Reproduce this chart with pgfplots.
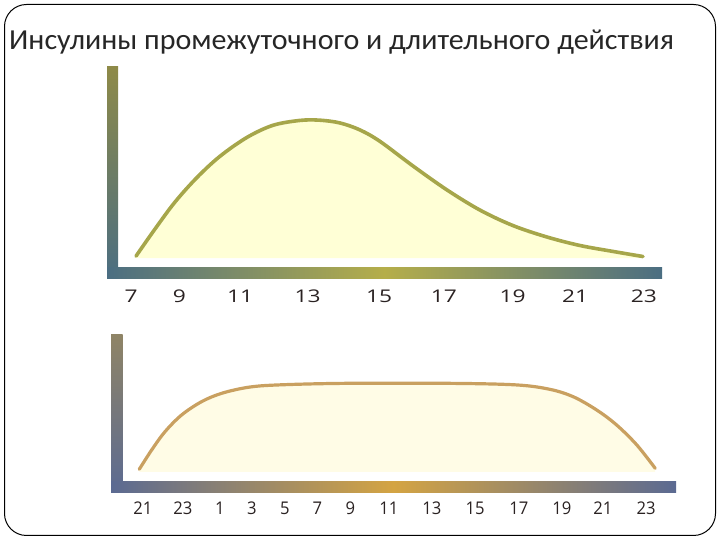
\documentclass[border=0pt]{standalone}
\usepackage{fontspec}
\setmainfont{Carlito}
\newfontfamily\titlefont[FakeStretch=1.035]{Carlito}
\newfontfamily\labfont[FakeStretch=1.3]{Open Sans}
\newfontfamily\labfontc[FakeStretch=0.95]{Open Sans}
\usepackage{pgfplots}
\pgfplotsset{compat=1.18}
\usepgfplotslibrary{fillbetween}

\definecolor{titlecol}{HTML}{262626}
\definecolor{labcol}{HTML}{2A2222}
\definecolor{topline}{HTML}{A6A64A}
\definecolor{topfill}{HTML}{FFFFD6}
\definecolor{botline}{HTML}{C9A060}
\definecolor{botfill}{HTML}{FFFCE6}
\definecolor{tbarA}{HTML}{8E8A48}
\definecolor{tbarB}{HTML}{4B6E82}
\definecolor{tbarM}{HTML}{B5AE4A}
\definecolor{bbarA}{HTML}{8F8466}
\definecolor{bbarB}{HTML}{5B6A92}
\definecolor{bbarM}{HTML}{D4A443}

\pgfplotstableread{
h      y
7.156  10.8
7.749  23.6
8.372  36.3
9.059  47.9
9.776  57.9
10.618 66.8
11.429 72.5
12.271 74.8
12.895 74.9
13.519 73.6
14.143 70.3
14.767 64.9
15.796 53.3
16.857 42.0
17.886 32.5
18.915 25.2
19.976 19.8
21.005 15.8
22.034 13.0
22.970 10.6
}\toptable

\pgfplotstableread{
h     y
20.81 15.0
21.45 27.2
22.14 38.8
23.00 49.4
24.03 57.8
25.07 63.1
26.44 66.9
27.99 68.4
31.44 69.4
36.87 69.4
40.31 68.4
42.03 65.6
43.24 60.9
44.45 52.5
45.48 43.0
46.52 30.4
47.47 15.6
}\bottable

\begin{document}
\begin{tikzpicture}
\path (0pt,0pt) rectangle (720pt,540pt);
\draw[black, line width=1pt, rounded corners=22pt] (4.5pt,4.5pt) rectangle (715.5pt,535.5pt);
\node[anchor=base west, inner sep=0pt, text=titlecol, font=\titlefont\fontsize{29}{34}\selectfont] at (9pt,490pt) {Инсулины промежуточного и длительного действия};

% axis bars (decoration)
\shade[top color=tbarA, bottom color=tbarB] (107pt,261pt) rectangle (118pt,473pt);
\shade[left color=tbarB, right color=tbarB, middle color=tbarM] (107pt,261pt) rectangle (662pt,272pt);
\shade[top color=bbarA, bottom color=bbarB] (111pt,47pt) rectangle (122.5pt,205pt);
\shade[left color=bbarB, right color=bbarB, middle color=bbarM] (111pt,47pt) rectangle (676pt,58pt);

% top chart: intermediate-acting insulin
\begin{axis}[at={(107pt,261pt)}, anchor=south west, scale only axis,
  width=555pt, height=212pt,
  xmin=6.251, xmax=23.563, ymin=0, ymax=100,
  axis line style={draw=none}, major tick length=0pt,
  ytick=\empty,
  xtick={7,8.51,10.40,12.51,14.74,16.76,18.90,20.85,23},
  xticklabels={7,9,11,13,15,17,19,21,23},
  xticklabel style={font=\labfont\fontsize{17.5}{20}\selectfont, text=labcol, anchor=base, yshift=-23.7pt, inner sep=0pt}]
\addplot[name path=topc, draw=none, smooth, tension=0.55] table[x=h, y=y] {\toptable};
\addplot[name path=topb, draw=none] coordinates {(7.156,9.9) (22.970,9.9)};
\addplot[topfill] fill between[of=topc and topb];
\addplot[topline, line width=3.6pt, smooth, tension=0.55, line cap=round] table[x=h, y=y] {\toptable};
\end{axis}

% bottom chart: long-acting insulin
\begin{axis}[at={(111pt,47pt)}, anchor=south west, scale only axis,
  width=565.5pt, height=158pt,
  xmin=19.35, xmax=48.57, ymin=0, ymax=100,
  axis line style={draw=none}, major tick length=0pt,
  ytick=\empty,
  xtick={21,23.07,24.98,26.63,28.34,30.02,31.72,33.71,35.93,38.16,40.43,42.65,44.77,47},
  xticklabels={21,23,1,3,5,7,9,11,13,15,17,19,21,23},
  xticklabel style={font=\labfontc\fontsize{17.5}{20}\selectfont, text=labcol, anchor=base, yshift=-22pt, inner sep=0pt}]
\addplot[name path=botc, draw=none, smooth, tension=0.55] table[x=h, y=y] {\bottable};
\addplot[name path=botb, draw=none] coordinates {(20.81,13.3) (47.47,13.3)};
\addplot[botfill] fill between[of=botc and botb];
\addplot[botline, line width=3.2pt, smooth, tension=0.55, line cap=round] table[x=h, y=y] {\bottable};
\end{axis}
\end{tikzpicture}
\end{document}
